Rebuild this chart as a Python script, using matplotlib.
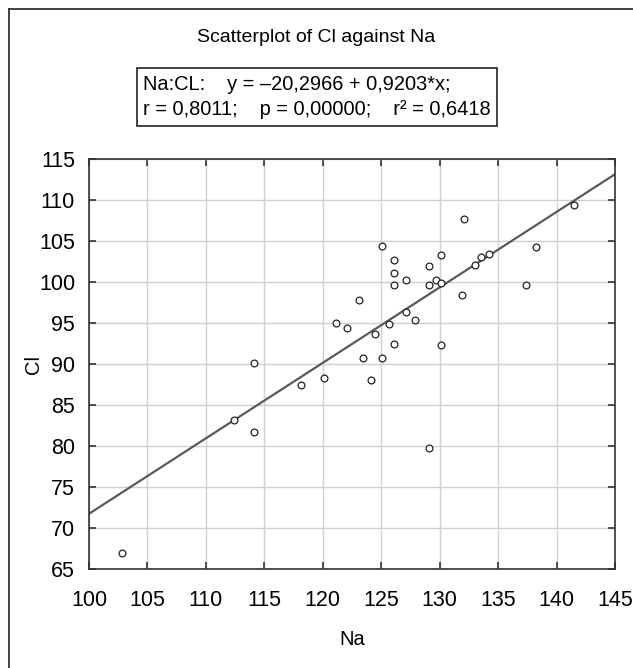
import numpy as np
import matplotlib
matplotlib.use('Agg')
import matplotlib.pyplot as plt
from matplotlib.lines import Line2D

plt.rcParams['font.family'] = ['Liberation Sans', 'DejaVu Sans']

# Na vs Cl values
na = [102.8, 112.4, 114.1, 114.1, 118.1, 120.1, 121.1, 122.1, 123.1, 123.4,
      124.1, 124.5, 125.1, 125.1, 125.7, 126.1, 126.1, 126.1, 126.1, 127.1,
      127.1, 127.9, 129.1, 129.1, 129.1, 129.65, 130.1, 130.1, 130.1, 131.9,
      132.05, 133.0, 133.5, 134.2, 137.4, 138.2, 141.5]
cl = [66.95, 83.2, 90.1, 81.7, 87.4, 88.25, 95.0, 94.35, 97.8, 90.7,
      88.05, 93.65, 104.45, 90.7, 94.9, 102.7, 101.1, 99.6, 92.5, 100.2,
      96.3, 95.4, 102.0, 99.6, 79.7, 100.3, 103.3, 99.9, 92.3, 98.4,
      107.7, 102.05, 103.1, 103.4, 99.65, 104.3, 109.35]

intercept, slope = -20.2966, 0.9203
xticks = list(range(100, 146, 5))
yticks = list(range(65, 116, 5))

title = 'Scatterplot of Cl against Na'
eq_text = ('Na:CL:    y = \u201320,2966 + 0,9203*x;\n'
           'r = 0,8011;    p = 0,00000;    r\u00b2 = 0,6418')

fig = plt.figure(figsize=(6.33, 6.68), dpi=100)
ax = fig.add_axes([89/633, 1 - 569/668, (615 - 89)/633, (569 - 159)/668])

xl = np.array([100, 145])
ax.plot(xl, intercept + slope * xl, color='#5a5a5a', lw=1.6, zorder=2)
ax.scatter(na, cl, s=24, facecolors='white', edgecolors='#222222', linewidths=0.9, zorder=3)

ax.set_xlim(100, 145)
ax.set_ylim(65, 115)
ax.set_xticks(xticks)
ax.set_yticks(yticks)
ax.grid(True, color='#d0d0d0', lw=1.0, zorder=0)
ax.set_axisbelow(True)
ax.tick_params(direction='in', length=5, width=1.2, color='#333333',
               top=True, right=True, labelsize=15.5)
ax.tick_params(axis='x', pad=15)
ax.tick_params(axis='y', pad=10)
for s in ax.spines.values():
    s.set_color('#333333'); s.set_linewidth(1.2)

ax.set_xlabel('Na', fontsize=14.5, labelpad=14)
ax.set_ylabel('Cl', fontsize=14.5, labelpad=-3)

fig.text(0.5, 1 - 38/668, title, ha='center', va='center', fontsize=14)
fig.text(143/633, 1 - 97/668, eq_text, ha='left', va='center', fontsize=14.4,
         linespacing=1.45,
         bbox=dict(boxstyle='square,pad=0.32', facecolor='white', edgecolor='#222222', lw=1.2))

# outer frame (top and left edges)
fig.add_artist(Line2D([8.7/633, 8.7/633], [0, 1 - 9/668], transform=fig.transFigure, color='#333333', lw=1.3))
fig.add_artist(Line2D([8.7/633, 1], [1 - 9/668, 1 - 9/668], transform=fig.transFigure, color='#333333', lw=1.3))

fig.savefig('out.png', dpi=100)
